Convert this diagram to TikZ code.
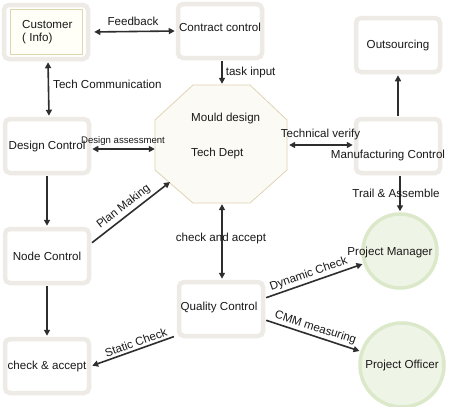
\documentclass[tikz,border=0pt]{standalone}
\usepackage{fontspec}
\setmainfont{Liberation Sans}
\usetikzlibrary{arrows.meta}
\definecolor{boxline}{HTML}{EEEBE7}
\definecolor{inline}{HTML}{DDD6AE}
\definecolor{infill}{HTML}{FFFFF8}
\definecolor{octline}{HTML}{E0D4B4}
\definecolor{octfill}{HTML}{FCFAF5}
\definecolor{cirline}{HTML}{DCE8CA}
\definecolor{cirfill}{HTML}{EFF5E6}
\definecolor{arr}{HTML}{2E2E2E}
\tikzset{
  x=1pt, y=-1pt,
  every node/.style={font=\fontsize{11.6}{13.5}\selectfont, text=black!90, inner sep=0pt},
  box/.style={draw=boxline, line width=4.5pt, rounded corners=5pt, fill=white,
              minimum width=84pt, minimum height=54pt},
  circ/.style={circle, draw=cirline, line width=3.5pt, fill=cirfill},
  con/.style={draw=arr, line width=1.6pt, -{Triangle[length=6pt,width=6pt]}},
  bicon/.style={draw=arr, line width=1.6pt, {Triangle[length=6pt,width=6pt]}-{Triangle[length=6pt,width=6pt]}},
  lab/.style={font=\fontsize{11.6}{13.5}\selectfont},
  small/.style={font=\fontsize{9.6}{11}\selectfont}
}
\begin{document}
\begin{tikzpicture}
\useasboundingbox (0,0) rectangle (450,407);
\fill[white] (0,0) rectangle (450,407);

% boxes
\node[box] (cust) at (46,32) {};
\node[draw=inline, line width=0.8pt, fill=infill, minimum width=72pt, minimum height=45pt] (custin) at (46,32) {};
\node[align=left, anchor=west] (custtxt) at (22,32) {Customer\\( Info)};
\node[box] (contract) at (220,31) {};
\node (contracttxt) at (220,27) {Contract control};
\node[box] (outs) at (398,45) {Outsourcing};
\node[box] (design) at (47,146) {Design Control};
\node[box] (manuf) at (398,146) {};
\node (manuftxt) at (388,155) {Manufacturing Control};
\node[box] (nodec) at (47,256) {Node Control};
\node[box] (qc) at (221,309) {};
\node (qctxt) at (219,307) {Quality Control};
\node[box] (chk) at (47,366) {check \& accept};

% octagon
\draw[draw=octline, fill=octfill, line width=0.8pt]
  (193,85) -- (250,85) -- (287,120) -- (287,170) -- (250,203) -- (193,203) -- (155,170) -- (155,120) -- cycle;
\node[minimum width=132pt, minimum height=118pt] (oct) at (221,144) {};
\coordinate (octsw) at (170,182);
\node[anchor=west] (mould) at (191,118) {Mould design};
\node[anchor=west] (tech) at (191,153) {Tech Dept};

% circles
\node[circ, minimum size=74pt] (pm) at (400,251) {};
\node (pmtxt) at (390,252) {Project Manager};
\node[circ, minimum size=84pt] (po) at (402,365) {Project Officer};

% connectors
\draw[bicon, shorten <=4pt, shorten >=1pt] (cust.east) -- (contract.west)
  node[lab, midway, above=5pt] {Feedback};
\draw[bicon, shorten <=1pt, shorten >=1pt] ([xshift=2pt]cust.south) -- ([xshift=2pt]design.north)
  node[lab, pos=0.42, right=4pt, anchor=west] {Tech Communication};
\draw[con, shorten <=1pt, shorten >=1pt] ([xshift=2pt]contract.south) -- ([xshift=2pt]contract.south |- oct.north)
  node[lab, midway, right=3pt, anchor=west] {task input};
\draw[bicon, shorten <=1pt, shorten >=0pt] ([yshift=-3pt]design.east) -- ([yshift=-3pt]design.east -| oct.west)
  node[small, midway, above=3pt] {Design assessment};
\draw[bicon, shorten <=2pt, shorten >=1pt] ([yshift=-1pt]oct.east) -- ([yshift=-1pt]oct.east -| manuf.west)
  node[lab, midway, above=4pt] {Technical verify};
\draw[con, shorten <=1pt, shorten >=1pt] (manuf.north) -- (outs.south);
\draw[con, shorten <=1pt, shorten >=1pt] ([xshift=2pt]manuf.south) -- ([xshift=2pt]manuf.south |- pm.north);
\node[lab] (trailtxt) at (396,193) {Trail \& Assemble};
\draw[con, shorten <=1pt, shorten >=1pt] (design.south) -- (nodec.north);
\draw[con, shorten <=1pt, shorten >=1pt] (nodec.south) -- (chk.north);
\draw[con, shorten <=1pt] (nodec.16) -- (octsw)
  node[lab, pos=0.48, sloped, above=2.5pt] {Plan Making};
\draw[bicon, shorten <=1pt, shorten >=1pt] ([xshift=1pt]oct.south) -- ([xshift=1pt]qc.north);
\node[lab] (catxt) at (221,238) {check and accept};
\draw[con, shorten <=1pt, shorten >=1pt] ([yshift=11pt]qc.east) -- (pm)
  node[lab, pos=0.47, sloped, above=2pt] {Dynamic Check};
\draw[con, shorten <=1pt, shorten >=1pt] ([yshift=-11pt]qc.east) -- (po)
  node[lab, pos=0.5, sloped, above=2pt] {CMM measuring};
\draw[con, shorten <=3pt, shorten >=1pt] (qc.211) -- (chk.east)
  node[lab, pos=0.45, sloped, above=2pt] {Static Check};
\end{tikzpicture}
\end{document}
